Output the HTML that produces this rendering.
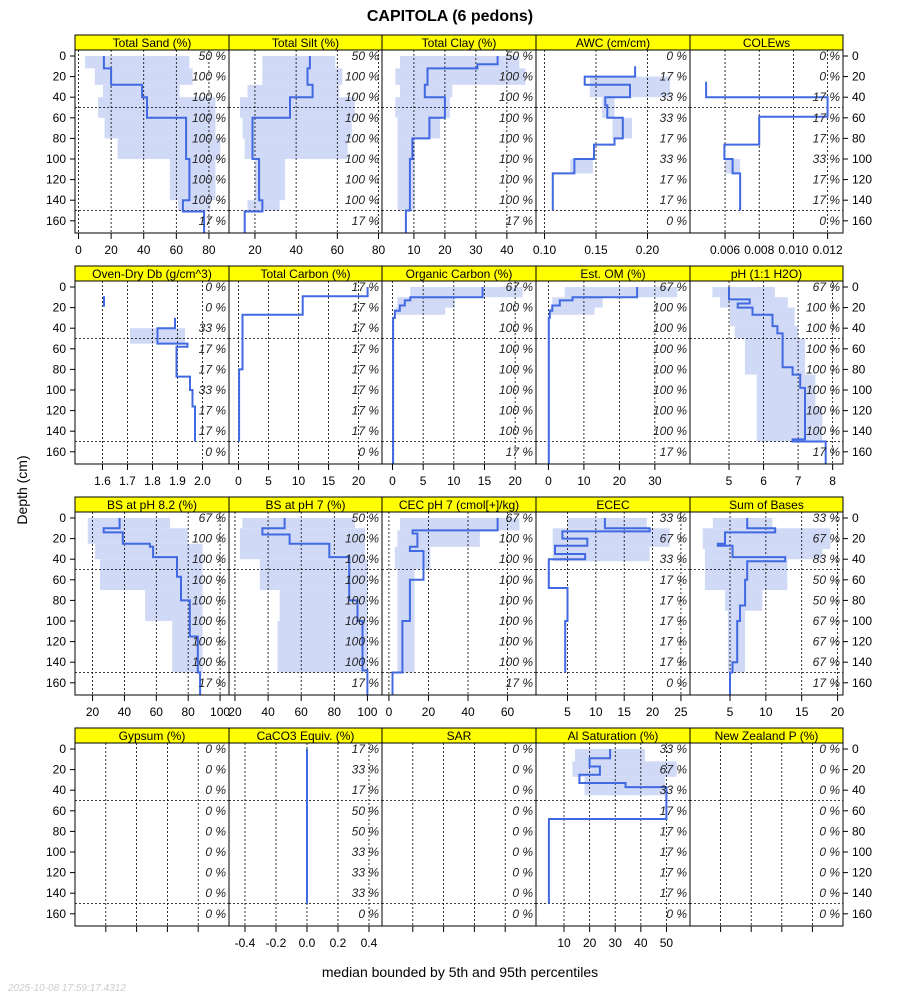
<!DOCTYPE html>
<html><head><meta charset="utf-8"><style>
html,body{margin:0;padding:0;background:#fff;}
svg{display:block;font-family:"Liberation Sans",sans-serif;}
</style></head><body>
<svg id="chart" width="900" height="1000" viewBox="0 0 900 1000" xmlns="http://www.w3.org/2000/svg">
<rect x="0" y="0" width="900" height="1000" fill="#fff"/>
<text x="450" y="21" text-anchor="middle" font-size="16" font-weight="bold">CAPITOLA (6 pedons)</text>
<text x="0" y="0" transform="translate(27,490) rotate(-90)" text-anchor="middle" font-size="14">Depth (cm)</text>
<text x="460" y="977" text-anchor="middle" font-size="14">median bounded by 5th and 95th percentiles</text>
<text x="8" y="991" font-size="10" font-style="italic" fill="#ccc">2025-10-08 17:59:17.4312</text>
<g id="panels"></g>
</svg>
<script>
// ---- data (depth top, depth bottom, value) ----
const sandMedian=[[0,12,15.6],[12,28,20],[28,40,39],[40,60,42],[60,100,66],[100,140,68],[140,151,64],[151,172,77]];
const sandBand=[[0,12,4,68],[12,28,10,70],[28,40,15,62],[40,60,12,84],[60,80,16,84],[80,100,24,87],[100,140,56,84],[140,150,61,81]];
const sandPct=[50,100,100,100,100,100,100,100,17];
const siltMedian=[[0,12,46.7],[12,28,45.5],[28,40,48],[40,60,37],[60,100,18.8],[100,140,22],[140,151,23.6],[151,172,15]];
const siltBand=[[0,12,23.6,59],[12,28,23.6,62.5],[28,40,16.4,61],[40,60,12.7,68.5],[60,80,14,67],[80,100,15,65],[100,140,20,34.6],[140,150,16.4,32]];
const siltPct=[50,100,100,100,100,100,100,100,17];
const clayMedian=[[0,8,37],[8,12,30.5],[12,28,14.4],[28,40,13.5],[40,60,20],[60,80,15],[80,100,9.5],[100,150,8.7],[150,172,7.4]];
const clayBand=[[0,12,5.5,44],[12,28,4,46],[28,40,5.5,22.4],[40,60,4,21.6],[60,80,4.7,18.4],[80,150,4.7,10.3]];
const clayPct=[50,100,100,100,100,100,100,100,17];
const awcMedian=[[10,20,0.188],[20,28,0.139],[28,40,0.183],[40,48,0.159],[48,60,0.161],[60,80,0.176],[80,86,0.168],[86,100,0.148],[100,114,0.129],[114,150,0.108]];
const awcBand=[[20,40,0.144,0.222],[40,60,0.156,0.168],[60,80,0.166,0.185],[100,114,0.125,0.147]];
const awcPct=[0,17,33,33,17,33,17,17,0];
const coleMedian=[[25,40,0.00489],[40,59,0.0120],[59,86,0.008],[86,100,0.00596],[100,114,0.00644],[114,150,0.00688]];
const coleBand=[[100,114,0.006,0.00688]];
const colePct=[0,0,17,17,17,33,17,17,0];
const dbMedian=[[9,19,1.606],[30,40,1.89],[40,55,1.82],[55,58,1.94],[58,87,1.896],[87,100,1.95],[100,116,1.96],[116,150,1.97]];
const dbBand=[[40,55,1.71,1.93]];
const dbPct=[0,0,33,17,17,33,17,17,0];
const tcMedian=[[0,9,21.5],[9,27,10.7],[27,80,0.67],[80,150,0.1]];
const tcBand=[];
const tcPct=[17,17,17,17,17,17,17,17,0];
const ocMedian=[[0,10,14.7],[10,13,2.9],[13,18,2],[18,23,1.2],[23,30,0.4],[30,172,0.1]];
const ocBand=[[0,10,2.9,21.2],[10,20,0.8,10.2],[20,27,0.4,8.6]];
const ocPct=[67,100,100,100,100,100,100,100,17];
const omMedian=[[0,10,25],[10,13,6.8],[13,18,3.2],[18,23,1.1],[23,30,0.4],[30,172,0.1]];
const omBand=[[0,10,4.6,36.3],[10,20,1.1,15.3],[20,27,0.4,13]];
const omPct=[67,100,100,100,100,100,100,100,17];
const phMedian=[[0,12,5.0],[12,16,5.6],[16,20,5.25],[20,27,5.68],[27,38,6.26],[38,45,6.4],[45,78,6.55],[78,85,6.84],[85,98,7.06],[98,148,7.2],[148,150,6.84],[150,172,7.8]];
const phBand=[[0,10,4.52,6.33],[10,20,4.74,6.7],[20,38,5.03,6.9],[38,50,5.17,6.99],[50,85,5.46,7.2],[85,116,5.8,7.5],[116,150,5.8,7.7]];
const phPct=[67,100,100,100,100,100,100,100,17];
const bs82Median=[[0,10,37],[10,14,27],[14,25,39],[25,28,56],[28,38,58],[38,57,73],[57,80,75.5],[80,115,81],[115,150,86],[150,172,87.5]];
const bs82Band=[[0,10,17,68.6],[10,25,17,79.6],[25,40,21.6,89],[40,70,24.7,89],[70,100,53,89],[100,150,70,89]];
const bs82Pct=[67,100,100,100,100,100,100,100,17];
const bs7Median=[[0,10,50],[10,16,36.6],[16,25,53],[25,38,77],[38,80,89],[80,100,94],[100,148,97],[148,172,100]];
const bs7Band=[[0,10,24.5,92.5],[10,40,23,98.5],[40,70,35,100],[70,100,47,100],[100,150,45.7,100]];
const bs7Pct=[50,100,100,100,100,100,100,100,17];
const cecMedian=[[0,12,55],[12,15,12],[15,28,14.4],[28,32,10.6],[32,60,17.5],[60,100,10.6],[100,150,6.8],[150,172,1.8]];
const cecBand=[[0,12,5.6,66],[12,28,4.3,46],[28,50,3,21],[50,150,4.3,13]];
const cecPct=[67,100,100,100,100,100,100,100,17];
const ececMedian=[[0,10,11.6],[10,13,19.5],[13,20,4.1],[20,27,8.5],[27,35,2.8],[35,40,8.1],[40,68,1.7],[68,100,5],[100,150,4.6]];
const ececBand=[[0,10,5,19],[10,28,2.4,23],[28,42,2.4,19.5]];
const ececPct=[33,67,33,17,17,17,17,17,0];
const sbMedian=[[0,10,7.4],[10,14,11.3],[14,25,4.3],[25,27,3.3],[27,38,5.35],[38,42,12.7],[42,60,7.4],[60,85,7.1],[85,100,6.4],[100,140,6],[140,150,5.35],[150,172,5]];
const sbBand=[[0,10,2.6,10.9],[10,30,1.2,19],[30,40,1.5,17.9],[40,70,1.5,13],[70,90,4.3,9.5],[90,150,4.7,7.1]];
const sbPct=[33,67,83,50,50,67,67,67,17];
const gypMedian=[];const gypBand=[];const gypPct=[0,0,0,0,0,0,0,0,0];
const caco3Median=[[0,150,0]];const caco3Band=[];const caco3Pct=[17,33,17,50,50,33,33,33,0];
const sarMedian=[];const sarBand=[];const sarPct=[0,0,0,0,0,0,0,0,0];
const alMedian=[[0,9,28],[9,17,20],[17,25,24],[25,33,16],[33,37,34],[37,68,50],[68,150,4.1]];
const alBand=[[0,12,14.3,41.6],[12,27,13.3,54],[27,45,18,49.5]];
const alPct=[33,67,33,17,17,17,17,17,0];
const nzpMedian=[];const nzpBand=[];const nzpPct=[0,0,0,0,0,0,0,0,0];
const depthTicks=[0,20,40,60,80,100,120,140,160];

const panels=[
 {t:"Total Sand (%)",d:[-2.15,92.3],ticks:[0,20,40,60,80],m:sandMedian,b:sandBand,p:sandPct,n:"sand"},
 {t:"Total Silt (%)",d:[7.4,81.7],ticks:[20,40,60,80],m:siltMedian,b:siltBand,p:siltPct,n:"silt"},
 {t:"Total Clay (%)",d:[-0.3,49.4],ticks:[10,20,30,40],m:clayMedian,b:clayBand,p:clayPct,n:"clay"},
 {t:"AWC (cm/cm)",d:[0.0917,0.2413],ticks:[0.10,0.15,0.20],f:2,m:awcMedian,b:awcBand,p:awcPct,n:"awc"},
 {t:"COLEws",d:[0.00395,0.0129],ticks:[0.006,0.008,0.010,0.012],f:3,m:coleMedian,b:coleBand,p:colePct,n:"cole"},
 {t:"Oven-Dry Db (g/cm^3)",d:[1.49,2.106],ticks:[1.6,1.7,1.8,1.9,2.0],f:1,m:dbMedian,b:dbBand,p:dbPct,n:"db"},
 {t:"Total Carbon (%)",d:[-1.58,23.9],ticks:[0,5,10,15,20],m:tcMedian,b:tcBand,p:tcPct,n:"total-carbon"},
 {t:"Organic Carbon (%)",d:[-1.71,23.4],ticks:[0,5,10,15,20],m:ocMedian,b:ocBand,p:ocPct,n:"organic-carbon"},
 {t:"Est. OM (%)",d:[-3.5,39.9],ticks:[0,10,20,30],m:omMedian,b:omBand,p:omPct,n:"om"},
 {t:"pH (1:1 H2O)",d:[3.87,8.3],ticks:[5,6,7,8],m:phMedian,b:phBand,p:phPct,n:"ph"},
 {t:"BS at pH 8.2 (%)",d:[9,105.6],ticks:[20,40,60,80,100],m:bs82Median,b:bs82Band,p:bs82Pct,n:"bs82"},
 {t:"BS at pH 7 (%)",d:[16.4,108.8],ticks:[20,40,60,80,100],m:bs7Median,b:bs7Band,p:bs7Pct,n:"bs7"},
 {t:"CEC pH 7 (cmol[+]/kg)",d:[-3.5,74.4],ticks:[0,20,40,60],m:cecMedian,b:cecBand,p:cecPct,n:"cec"},
 {t:"ECEC",d:[-0.55,26.6],ticks:[5,10,15,20,25],m:ececMedian,b:ececBand,p:ececPct,n:"ecec"},
 {t:"Sum of Bases",d:[-0.58,20.76],ticks:[5,10,15,20],m:sbMedian,b:sbBand,p:sbPct,n:"sum-of-bases"},
 {t:"Gypsum (%)",d:[0,1],ticks:[0.2,0.4,0.6,0.8],nolab:1,m:gypMedian,b:gypBand,p:gypPct,n:"gypsum"},
 {t:"CaCO3 Equiv. (%)",d:[-0.503,0.484],ticks:[-0.4,-0.2,0,0.2,0.4],f:1,m:caco3Median,b:caco3Band,p:caco3Pct,n:"caco3"},
 {t:"SAR",d:[0,1],ticks:[0.2,0.4,0.6,0.8],nolab:1,m:sarMedian,b:sarBand,p:sarPct,n:"sar"},
 {t:"Al Saturation (%)",d:[-0.94,59.2],ticks:[10,20,30,40,50],m:alMedian,b:alBand,p:alPct,n:"al-saturation"},
 {t:"New Zealand P (%)",d:[0,1],ticks:[0.2,0.4,0.6,0.8],nolab:1,m:nzpMedian,b:nzpBand,p:nzpPct,n:"nz-p"}
];
const colX=[75,229,382,536,690,843];
const rowTop=[35,266,497,728];
const NS="http://www.w3.org/2000/svg";
const root=document.getElementById('panels');
function mk(tag,attrs,parent){const e=document.createElementNS(NS,tag);for(const k in attrs)e.setAttribute(k,attrs[k]);(parent||root).appendChild(e);return e;}
function fmt(v,f){return f?v.toFixed(f):String(v);}

for(let r=0;r<4;r++){
  const st=rowTop[r], top=st+15, bot=top+183;
  const yS=d=>top+6+d*1.03;
  // left & right depth axis
  depthTicks.forEach(d=>{
    const y=yS(d);
    mk('line',{x1:70,x2:75,y1:y,y2:y,stroke:'#000'});
    mk('line',{x1:843,x2:848,y1:y,y2:y,stroke:'#000'});
    const tl=mk('text',{x:66,y:y+4,'text-anchor':'end','font-size':12});tl.textContent=d;
    
    
    const tr=mk('text',{x:852,y:y+4,'font-size':12});tr.textContent=d;
    
    
  });
  for(let c=0;c<5;c++){
    const P=panels[r*5+c], L=colX[c], R=colX[c+1];
    const g=mk('g',{});
    
    
    const xS=v=>L+(v-P.d[0])/(P.d[1]-P.d[0])*(R-L);
    // strip
    const s=mk('rect',{x:L,y:st,width:R-L,height:15,fill:'#ffff00',stroke:'#000','stroke-width':1},g);
    
    
    const stt=mk('text',{x:(L+R)/2,y:st+12,'text-anchor':'middle','font-size':12},g);stt.textContent=P.t;
    
    
    // bands
    P.b.forEach(b=>{
      const x1=xS(b[2]),x2=xS(b[3]);
      const br=mk('rect',{x:Math.min(x1,x2),y:yS(b[0]),width:Math.abs(x2-x1),height:yS(b[1])-yS(b[0]),fill:'#d0d9f6'},g);
      
      
    });
    // grid
    P.ticks.forEach(t=>{const x=xS(t);mk('line',{x1:x,x2:x,y1:top,y2:bot,stroke:'#000','stroke-dasharray':'2,2','stroke-width':0.8},g);
      mk('line',{x1:x,x2:x,y1:bot,y2:bot+6,stroke:'#000'},g);
      if(!P.nolab){const tx=mk('text',{x:x,y:bot+21,'text-anchor':'middle','font-size':12},g);tx.textContent=fmt(t,P.f);
        
        }
    });
    [50,150].forEach(d=>mk('line',{x1:L,x2:R,y1:yS(d),y2:yS(d),stroke:'#000','stroke-dasharray':'2,2','stroke-width':0.8},g));
    // median step line
    if(P.m.length){
      let pts=[];
      P.m.forEach((m,i)=>{
        const x=xS(m[2]);
        if(i>0 && P.m[i-1][1]!==m[0]){ pts.push(null); }
        pts.push([x,yS(m[0])],[x,yS(m[1])]);
      });
      let dstr='',pen=false;
      pts.forEach(p=>{if(!p){pen=false;return;}dstr+=(pen?'L':'M')+p[0].toFixed(1)+','+p[1].toFixed(1);pen=true;});
      const ln=mk('path',{d:dstr,fill:'none',stroke:'#4169e1','stroke-width':2},g);
      
      
    }
    // percent labels
    P.p.forEach((v,i)=>{
      const t=mk('text',{x:R-3,y:yS(depthTicks[i])+4,'text-anchor':'end','font-size':12,'font-style':'italic',fill:'#222'},g);
      t.textContent=v+' %';
      
      
    });
    const fr=mk('rect',{x:L,y:top,width:R-L,height:bot-top,fill:'none',stroke:'#000','stroke-width':1},g);
    
    
  }
}
</script>
</body></html>
